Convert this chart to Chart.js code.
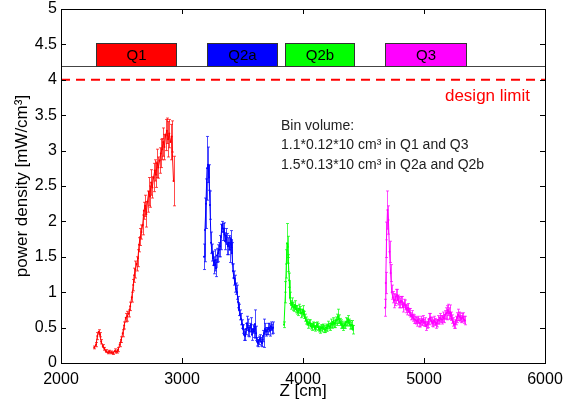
<!DOCTYPE html>
<html>
<head>
<meta charset="utf-8">
<script src="https://cdn.jsdelivr.net/npm/chart.js@4.4.1/dist/chart.umd.min.js"></script>
<style>
  body { margin: 0; background: #fff; }
  #wrap { width: 564px; height: 407px; }
</style>
</head>
<body>
<div id="wrap"><canvas id="chart1" width="564" height="407"></canvas></div>
<script>
// magnets along the beam line [cm]
var magnetNames = ["Q1", "Q2a", "Q2b", "Q3"];
var magnetStart = [2290, 3207, 3851, 4678];
var magnetEnd = [2950, 3785, 4421, 5347];
var magnetColors = ["#ff0000", "#0000ff", "#00ff00", "#ff00ff"];
var magnetLow = 4.2;
var magnetHigh = 4.52;
var designLimit = 4;

var xTicks = [2000, 3000, 4000, 5000, 6000];

// Q1
var q1Z = [2275,2290,2300,2312,2322,2332,2345,2358,2370,2385,2400,2415,2430,2445,2460,2472,2485,2497,2510,2522,2535,2548,2560,2572,2585,2597,2605,2615,2625,2636,2645,2655,2665,2675,2685,2695,2705,2715,2725,2735,2745,2755,2765,2775,2785,2795,2805,2815,2825,2835,2845,2855,2865,2875,2885,2895,2905,2915,2930];
var q1Power = [0.22,0.26,0.38,0.44,0.40,0.30,0.24,0.20,0.17,0.15,0.16,0.15,0.14,0.17,0.16,0.19,0.26,0.33,0.42,0.53,0.64,0.66,0.70,0.80,0.93,1.10,1.24,1.32,1.40,1.48,1.67,1.78,1.85,1.95,2.15,2.22,2.10,2.28,2.42,2.35,2.55,2.48,2.62,2.72,2.66,2.82,2.76,2.86,2.96,3.02,3.12,3.05,3.22,3.28,3.16,3.24,3.12,3.20,2.57];
var q1Err = [0.02,0.03,0.05,0.03,0.03,0.03,0.02,0.02,0.02,0.02,0.02,0.02,0.02,0.03,0.02,0.03,0.03,0.04,0.05,0.05,0.06,0.07,0.05,0.06,0.07,0.08,0.10,0.12,0.10,0.12,0.10,0.12,0.10,0.14,0.12,0.15,0.18,0.15,0.20,0.15,0.18,0.15,0.20,0.15,0.18,0.20,0.15,0.18,0.20,0.15,0.20,0.18,0.22,0.18,0.25,0.20,0.25,0.22,0.35];

// Q2a
var q2aZ = [3182,3190,3198,3207,3215,3223,3231,3240,3248,3256,3264,3272,3281,3289,3298,3306,3314,3322,3331,3339,3347,3356,3364,3372,3380,3388,3396,3405,3413,3421,3430,3438,3446,3455,3463,3471,3479,3488,3496,3504,3512,3521,3529,3537,3545,3554,3562,3570,3578,3587,3595,3603,3612,3620,3628,3636,3645,3653,3661,3669,3678,3686,3694,3702,3711,3719,3727,3735,3744,3752];
var q2aPower = [1.50,1.88,2.25,2.75,2.80,2.62,2.23,1.70,1.56,1.48,1.38,1.45,1.34,1.52,1.55,1.60,1.65,1.78,1.95,1.85,1.90,1.72,1.80,1.68,1.65,1.70,1.60,1.75,1.55,1.30,1.20,1.12,1.05,1.00,0.86,0.75,0.68,0.62,0.55,0.48,0.40,0.38,0.48,0.56,0.50,0.45,0.50,0.54,0.40,0.48,0.44,0.55,0.42,0.30,0.28,0.32,0.35,0.30,0.28,0.38,0.42,0.48,0.44,0.45,0.48,0.50,0.46,0.52,0.48,0.50];
var q2aErr = [0.18,0.45,0.35,0.45,0.25,0.18,0.20,0.15,0.12,0.10,0.12,0.15,0.12,0.10,0.12,0.10,0.15,0.18,0.05,0.12,0.08,0.12,0.10,0.15,0.12,0.10,0.18,0.12,0.15,0.10,0.10,0.12,0.08,0.10,0.08,0.08,0.07,0.08,0.06,0.06,0.08,0.06,0.08,0.10,0.12,0.08,0.06,0.10,0.08,0.06,0.08,0.20,0.10,0.06,0.05,0.06,0.05,0.06,0.05,0.08,0.20,0.08,0.06,0.05,0.08,0.06,0.08,0.06,0.07,0.08];

// Q2b
var q2bZ = [3843,3855,3862,3868,3874,3880,3886,3892,3901,3909,3917,3926,3934,3942,3950,3959,3967,3975,3983,3992,4000,4008,4016,4025,4033,4041,4050,4058,4066,4074,4083,4091,4099,4108,4116,4124,4132,4140,4149,4157,4165,4174,4182,4190,4198,4207,4215,4223,4232,4240,4248,4256,4264,4273,4281,4289,4297,4306,4314,4322,4331,4339,4347,4356,4364,4372,4380,4388,4397,4405,4413];
var q2bPower = [0.54,1.00,1.40,1.69,1.64,1.41,1.17,0.92,0.82,0.85,0.80,0.78,0.82,0.76,0.75,0.72,0.77,0.75,0.70,0.71,0.75,0.68,0.64,0.60,0.58,0.54,0.57,0.56,0.52,0.51,0.54,0.52,0.49,0.52,0.54,0.51,0.48,0.47,0.50,0.49,0.51,0.48,0.47,0.50,0.49,0.54,0.52,0.51,0.56,0.54,0.58,0.55,0.56,0.60,0.61,0.66,0.62,0.58,0.55,0.54,0.51,0.53,0.54,0.58,0.58,0.61,0.57,0.54,0.53,0.54,0.47];
var q2bErr = [0.04,0.15,0.20,0.28,0.15,0.12,0.10,0.08,0.06,0.07,0.06,0.05,0.06,0.05,0.06,0.05,0.06,0.05,0.06,0.05,0.06,0.05,0.05,0.05,0.04,0.05,0.04,0.05,0.04,0.05,0.04,0.05,0.04,0.05,0.04,0.05,0.04,0.05,0.04,0.05,0.04,0.05,0.04,0.05,0.04,0.05,0.04,0.05,0.06,0.05,0.06,0.05,0.06,0.05,0.08,0.10,0.06,0.05,0.06,0.05,0.05,0.04,0.05,0.06,0.05,0.06,0.05,0.06,0.05,0.06,0.06];

// Q3
var q3Z = [4678,4684,4690,4698,4706,4715,4724,4733,4742,4751,4760,4768,4777,4785,4793,4802,4810,4818,4826,4835,4843,4851,4860,4868,4876,4884,4893,4901,4909,4917,4926,4934,4942,4950,4959,4967,4975,4983,4992,5000,5008,5017,5025,5033,5041,5050,5058,5066,5074,5083,5091,5099,5107,5116,5124,5132,5140,5149,5157,5165,5174,5182,5190,5198,5207,5215,5223,5231,5240,5248,5256,5265,5273,5281,5290,5298,5306,5314,5322,5330,5339];
var q3Power = [0.78,1.13,1.74,2.16,2.02,1.57,1.27,1.00,0.93,0.88,0.89,0.94,0.96,0.89,0.86,0.85,0.88,0.86,0.79,0.84,0.82,0.77,0.75,0.78,0.72,0.71,0.66,0.68,0.64,0.62,0.61,0.60,0.58,0.61,0.57,0.56,0.60,0.58,0.61,0.57,0.58,0.52,0.54,0.56,0.62,0.64,0.60,0.58,0.56,0.60,0.58,0.55,0.56,0.61,0.60,0.64,0.62,0.61,0.65,0.63,0.68,0.70,0.71,0.75,0.70,0.72,0.66,0.62,0.58,0.54,0.55,0.60,0.64,0.68,0.66,0.65,0.62,0.64,0.65,0.61,0.60];
var q3Err = [0.12,0.15,0.25,0.27,0.20,0.15,0.12,0.10,0.08,0.10,0.08,0.10,0.08,0.07,0.08,0.07,0.06,0.08,0.07,0.06,0.07,0.06,0.07,0.06,0.05,0.06,0.05,0.06,0.05,0.06,0.05,0.05,0.06,0.05,0.06,0.05,0.06,0.05,0.06,0.05,0.06,0.06,0.05,0.06,0.08,0.06,0.05,0.06,0.05,0.06,0.05,0.06,0.05,0.06,0.05,0.06,0.05,0.06,0.07,0.06,0.06,0.08,0.10,0.08,0.08,0.10,0.06,0.06,0.06,0.05,0.06,0.06,0.07,0.08,0.06,0.06,0.05,0.06,0.06,0.05,0.06];

var FONT = "'Liberation Sans', Arial, sans-serif";

function pts(zs, ps) {
    return zs.map(function (z, i) { return {x: z, y: ps[i]}; });
}

function series(zs, ps, errs, color) {
    return {
        data: pts(zs, ps),
        errors: errs,
        borderColor: color,
        backgroundColor: color,
        borderWidth: 1,
        pointRadius: 1,
        pointBorderWidth: 0,
        tension: 0
    };
}

// error bars, magnets, texts, inner ticks and box
var decor = {
    id: 'decor',
    beforeDatasetsDraw: function (chart) {
        var ctx = chart.ctx, a = chart.chartArea, x = chart.scales.x, y = chart.scales.y;
        ctx.save();
        // error bars
        chart.data.datasets.forEach(function (ds) {
            if (!ds.errors) return;
            ctx.strokeStyle = ds.borderColor;
            ctx.globalAlpha = 0.7;
            ctx.lineWidth = 1;
            ds.data.forEach(function (p, i) {
                var px = Math.round(x.getPixelForValue(p.x)) + 0.5;
                var top = y.getPixelForValue(p.y + ds.errors[i]);
                var bot = y.getPixelForValue(p.y - ds.errors[i]);
                ctx.beginPath();
                ctx.moveTo(px, top); ctx.lineTo(px, bot);
                ctx.moveTo(px - 1.5, top); ctx.lineTo(px + 1.5, top);
                ctx.moveTo(px - 1.5, bot); ctx.lineTo(px + 1.5, bot);
                ctx.stroke();
            });
        });
        ctx.globalAlpha = 1;
        // line under the magnets
        var yl = Math.round(y.getPixelForValue(magnetLow)) + 0.5;
        ctx.strokeStyle = '#444';
        ctx.beginPath(); ctx.moveTo(a.left, yl); ctx.lineTo(a.right, yl); ctx.stroke();
        // magnets
        var yh = Math.round(y.getPixelForValue(magnetHigh)) + 0.5;
        ctx.font = '15px ' + FONT;
        ctx.textAlign = 'center';
        ctx.textBaseline = 'middle';
        for (var i = 0; i < magnetNames.length; i++) {
            var x0 = Math.round(x.getPixelForValue(magnetStart[i])) + 0.5;
            var x1 = Math.round(x.getPixelForValue(magnetEnd[i])) + 0.5;
            ctx.fillStyle = magnetColors[i];
            ctx.fillRect(x0, yh, x1 - x0, yl - yh);
            ctx.strokeStyle = '#333';
            ctx.strokeRect(x0, yh, x1 - x0, yl - yh);
            ctx.fillStyle = '#000';
            ctx.fillText(magnetNames[i], (x0 + x1) / 2, (yh + yl) / 2 + 1);
        }
        // texts
        ctx.fillStyle = '#ff0000';
        ctx.font = '17px ' + FONT;
        ctx.textAlign = 'right';
        ctx.fillText('design limit', x.getPixelForValue(5876), y.getPixelForValue(3.77));
        ctx.fillStyle = '#222';
        ctx.font = '14px ' + FONT;
        ctx.textAlign = 'left';
        var tx = x.getPixelForValue(3818);
        ctx.fillText('Bin volume:', tx, y.getPixelForValue(3.35));
        ctx.fillText('1.1*0.12*10 cm\u00b3 in Q1 and Q3', tx, y.getPixelForValue(3.08));
        ctx.fillText('1.5*0.13*10 cm\u00b3 in Q2a and Q2b', tx, y.getPixelForValue(2.80));
        ctx.restore();
    },
    afterDraw: function (chart) {
        var ctx = chart.ctx, a = chart.chartArea, x = chart.scales.x, y = chart.scales.y;
        ctx.save();
        ctx.strokeStyle = '#000';
        ctx.lineWidth = 1;
        ctx.beginPath();
        x.ticks.forEach(function (t) {
            var px = Math.round(x.getPixelForValue(t.value)) + 0.5;
            ctx.moveTo(px, a.bottom); ctx.lineTo(px, a.bottom - 5);
            ctx.moveTo(px, a.top); ctx.lineTo(px, a.top + 5);
        });
        y.ticks.forEach(function (t) {
            var py = Math.round(y.getPixelForValue(t.value)) + 0.5;
            ctx.moveTo(a.left, py); ctx.lineTo(a.left + 5, py);
            ctx.moveTo(a.right, py); ctx.lineTo(a.right - 5, py);
        });
        ctx.stroke();
        ctx.strokeRect(Math.round(a.left) + 0.5, Math.round(a.top) + 0.5,
            Math.round(a.right - a.left), Math.round(a.bottom - a.top));
        ctx.restore();
    }
};

var ctx = document.getElementById("chart1").getContext('2d');
var chart1 = new Chart(ctx, {
    type: 'line',
    data: {
        datasets: [
            {
                data: [{x: xTicks[0], y: designLimit}, {x: xTicks[xTicks.length - 1], y: designLimit}],
                borderColor: '#ff0000',
                borderWidth: 2,
                borderDash: [9, 6],
                pointRadius: 0
            },
            series(q1Z, q1Power, q1Err, '#ff0000'),
            series(q2aZ, q2aPower, q2aErr, '#0000ff'),
            series(q2bZ, q2bPower, q2bErr, '#00ff00'),
            series(q3Z, q3Power, q3Err, '#ff00ff')
        ]
    },
    options: {
        responsive: false,
        animation: false,
        devicePixelRatio: 1,
        layout: { padding: 0 },
        plugins: { legend: { display: false }, tooltip: { enabled: false } },
        scales: {
            x: {
                type: 'linear',
                min: 2000,
                max: 6000,
                afterBuildTicks: function (s) { s.ticks = xTicks.map(function (v) { return {value: v}; }); },
                afterFit: function (s) {
                    s.height = 44;
                    s.paddingLeft = 0; s.paddingRight = 19;
                },
                ticks: { color: '#000', padding: 7, maxRotation: 0,
                    callback: function (v) { return String(v); },
                    font: { family: FONT, size: 16 } },
                grid: { drawOnChartArea: false, drawTicks: false },
                border: { color: '#000' },
                title: { display: true, text: 'Z [cm]', color: '#000', padding: { top: 5, bottom: 5 },
                    font: { family: FONT, size: 17 } }
            },
            y: {
                min: 0,
                max: 5,
                ticks: { stepSize: 0.5, color: '#000', padding: 4,
                    callback: function (v) { return String(v); },
                    font: { family: FONT, size: 16 } },
                afterFit: function (s) {
                    s.width = 61;
                    s.paddingTop = 9; s.paddingBottom = 0;
                },
                grid: { drawOnChartArea: false, drawTicks: false },
                border: { color: '#000' },
                title: { display: true, text: 'power density [mW/cm\u00b3]', color: '#000', padding: { top: 12, bottom: 12 },
                    font: { family: FONT, size: 17 } }
            }
        }
    },
    plugins: [decor]
});
</script>
</body>
</html>
